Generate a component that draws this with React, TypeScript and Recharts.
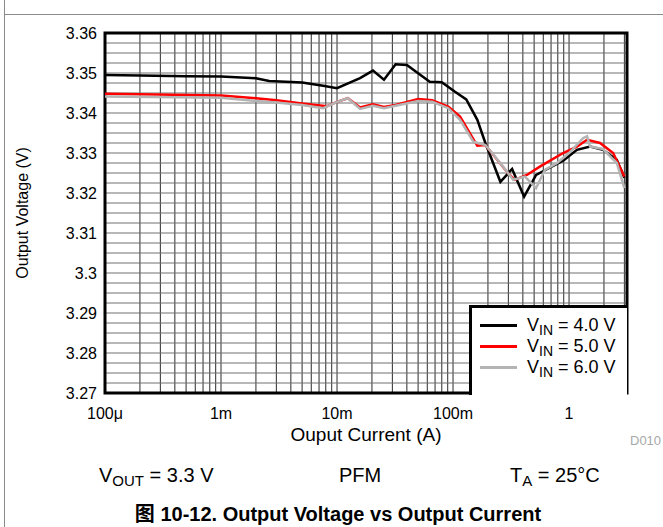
import {
  CartesianGrid,
  Label,
  Legend,
  Line,
  LineChart,
  ReferenceArea,
  XAxis,
  YAxis,
} from 'recharts';

// output current (A) and output voltage (V)
const vin4Current = [
  0.0001, 0.0002, 0.0005, 0.001, 0.002, 0.0026, 0.005, 0.0076, 0.01, 0.0158, 0.0204, 0.0254,
  0.032, 0.04, 0.063, 0.08, 0.104, 0.13, 0.162, 0.19, 0.256, 0.323, 0.41, 0.52, 0.65, 0.89,
  1.17, 1.52, 1.96, 2.58, 3.0,
];
const vin4Voltage = [
  3.3495, 3.3494, 3.3492, 3.3491, 3.3487, 3.348, 3.3476, 3.3468, 3.3462, 3.3487, 3.3506, 3.3483,
  3.3522, 3.352, 3.3478, 3.3477, 3.3453, 3.3434, 3.3383, 3.3325, 3.3228, 3.326, 3.3191, 3.3245,
  3.326, 3.3281, 3.3308, 3.3316, 3.3308, 3.3283, 3.3238,
];

const vin5Current = [
  0.0001, 0.001, 0.002, 0.003, 0.005, 0.0082, 0.01, 0.0124, 0.0158, 0.0204, 0.0254, 0.032, 0.05,
  0.066, 0.091, 0.115, 0.162, 0.19, 0.297, 0.34, 0.433, 0.56, 0.89, 1.17, 1.43, 1.85, 2.4, 3.0,
];
const vin5Voltage = [
  3.3448, 3.3444, 3.3437, 3.3432, 3.3424, 3.3417, 3.3428, 3.3437, 3.3414, 3.3422, 3.3415, 3.342,
  3.3435, 3.3432, 3.3416, 3.3391, 3.3318, 3.332, 3.325, 3.3233, 3.3245, 3.3266, 3.33, 3.3316,
  3.3333, 3.3325, 3.33, 3.3241,
];

const vin6Current = [
  0.0001, 0.001, 0.002, 0.003, 0.005, 0.0076, 0.01, 0.0124, 0.0158, 0.0204, 0.0254, 0.032, 0.05,
  0.066, 0.091, 0.115, 0.15, 0.19, 0.217, 0.27, 0.33, 0.417, 0.52, 0.62, 0.79, 1.0, 1.32, 1.43,
  1.52, 1.96, 2.58, 3.0,
];
const vin6Voltage = [
  3.3441, 3.3438, 3.343, 3.3426, 3.342, 3.3412, 3.3428, 3.3437, 3.341, 3.3418, 3.3412, 3.3418,
  3.343, 3.3428, 3.3412, 3.3383, 3.3328, 3.332, 3.33, 3.3266, 3.3233, 3.3241, 3.3212, 3.3258,
  3.3275, 3.33, 3.3337, 3.3342, 3.3316, 3.331, 3.3275, 3.3212,
];

const decadeTicks = [0.0001, 0.001, 0.01, 0.1, 1];
const decadeLabels = ['100μ', '1m', '10m', '100m', '1'];
const voltageTicks = [3.27, 3.28, 3.29, 3.3, 3.31, 3.32, 3.33, 3.34, 3.35, 3.36];
const voltageLabels = ['3.27', '3.28', '3.29', '3.3', '3.31', '3.32', '3.33', '3.34', '3.35', '3.36'];
const gridMultipliers = [1, 2, 3, 4, 5, 6, 7, 8, 9];

const X_MIN = 0.0001;
const X_MAX = 3.16;

const seriesNames = ['4.0', '5.0', '6.0'];
const seriesColors = ['#000000', '#ff0000', '#b4b4b4'];

const toPoints = (xs: number[], ys: number[]) => xs.map((i, k) => ({ i, v: ys[k] }));
const vin4Data = toPoints(vin4Current, vin4Voltage);
const vin5Data = toPoints(vin5Current, vin5Voltage);
const vin6Data = toPoints(vin6Current, vin6Voltage);

// log grid: 1..9 per decade
const xGridTicks = decadeTicks
  .flatMap((d) => gridMultipliers.map((m) => +(d * m).toPrecision(3)))
  .filter((v) => v <= X_MAX);
// 4 minor divisions per 0.01 V
const yGridTicks = Array.from({ length: 37 }, (_, k) => +(3.27 + k * 0.0025).toFixed(4));

const FONT = '"Liberation Sans", Arial, sans-serif';

const xFmt = (v: number) => {
  const idx = decadeTicks.findIndex((d) => Math.abs(d - v) < d * 1e-6);
  return idx >= 0 ? decadeLabels[idx] : '';
};
const yFmt = (v: number) => {
  const idx = voltageTicks.findIndex((d) => Math.abs(d - v) < 1e-6);
  return idx >= 0 ? voltageLabels[idx] : '';
};

function LegendBox() {
  return (
    <div
      style={{
        width: 155,
        height: 80,
        background: '#fff',
        border: '3px solid #000',
        borderRight: 'none',
        borderBottom: 'none',
        fontFamily: FONT,
        fontSize: 18,
        color: '#000',
        paddingTop: 7,
        boxSizing: 'content-box',
      }}
    >
      {seriesNames.map((n, k) => (
        <div key={n} style={{ display: 'flex', alignItems: 'center', height: 21 }}>
          <span
            style={{
              display: 'inline-block',
              width: 37,
              height: 2.5,
              background: seriesColors[k],
              marginLeft: 8,
              marginRight: 10,
            }}
          />
          <span style={{ lineHeight: '21px' }}>
            V<sub style={{ fontSize: 14, verticalAlign: -4, lineHeight: 0 }}>IN</sub> = {n} V
          </span>
        </div>
      ))}
    </div>
  );
}

const noteStyle: React.CSSProperties = {
  position: 'absolute',
  fontFamily: FONT,
  fontSize: 20,
  lineHeight: '20px',
  color: '#000',
  whiteSpace: 'nowrap',
};

export default function App() {
  return (
    <div style={{ position: 'absolute', left: 0, top: 0, width: 663, height: 527, background: '#fff', overflow: 'hidden' }}>
      <div style={{ position: 'absolute', left: 4, top: 0, width: 1, height: 527, background: '#8a8a8a' }} />
      <div style={{ position: 'absolute', left: 4, top: 14, width: 659, height: 1, background: '#8a8a8a' }} />
      <LineChart
        width={663}
        height={527}
        margin={{ top: 33, right: 36, bottom: 104, left: 0 }}
        style={{ position: 'absolute', left: 0, top: 0 }}
      >
        <CartesianGrid horizontal={false} stroke="#2a2a2a" strokeWidth={1} />
        <CartesianGrid vertical={false} stroke="#707070" strokeWidth={1} />
        <XAxis
          dataKey="i"
          type="number"
          scale="log"
          domain={[X_MIN, X_MAX]}
          allowDataOverflow
          ticks={xGridTicks}
          interval={0}
          tickFormatter={xFmt}
          axisLine={false}
          tickLine={false}
          tickMargin={9}
          height={30}
          tick={{ fontSize: 16, fill: '#000', fontFamily: FONT }}
        >
          <Label
            content={({ viewBox }: any) => (
              <text
                x={viewBox.x + viewBox.width / 2}
                y={441}
                textAnchor="middle"
                fontSize={19}
                fontFamily={FONT}
                fill="#000"
              >
                Ouput Current (A)
              </text>
            )}
          />
        </XAxis>
        <YAxis
          type="number"
          domain={[3.27, 3.36]}
          allowDataOverflow
          ticks={yGridTicks}
          interval={0}
          tickFormatter={yFmt}
          axisLine={false}
          tickLine={false}
          width={105}
          tick={{ fontSize: 16, fill: '#000', fontFamily: FONT }}
        >
          <Label
            content={({ viewBox }: any) => {
              const cy = viewBox.y + viewBox.height / 2;
              return (
                <text
                  x={28}
                  y={cy}
                  transform={`rotate(-90 28 ${cy})`}
                  textAnchor="middle"
                  fontSize={16}
                  fontFamily={FONT}
                  fill="#000"
                >
                  Output Voltage (V)
                </text>
              );
            }}
          />
        </YAxis>
        <Line data={vin4Data} dataKey="v" type="linear" stroke={seriesColors[0]} strokeWidth={2.5} dot={false} isAnimationActive={false} />
        <Line data={vin5Data} dataKey="v" type="linear" stroke={seriesColors[1]} strokeWidth={2.5} dot={false} isAnimationActive={false} />
        <Line data={vin6Data} dataKey="v" type="linear" stroke={seriesColors[2]} strokeWidth={2.5} dot={false} isAnimationActive={false} />
        <ReferenceArea
          x1={X_MIN}
          x2={X_MAX}
          y1={3.27}
          y2={3.36}
          fill="none"
          stroke="#000"
          strokeWidth={3}
          ifOverflow="visible"
        />
        <Legend
          layout="vertical"
          align="center"
          verticalAlign="middle"
          content={() => <LegendBox />}
          wrapperStyle={{ left: 469, top: 305, width: 'auto', height: 'auto' }}
        />
      </LineChart>
      <div style={{ ...noteStyle, left: 630, top: 434, fontSize: 13, lineHeight: '13px', color: '#a8a8a8' }}>D010</div>
      <div style={{ ...noteStyle, left: 99, top: 465 }}>
        V<sub style={{ fontSize: 15, verticalAlign: -4, lineHeight: 0 }}>OUT</sub> = 3.3 V
      </div>
      <div style={{ ...noteStyle, left: 339, top: 465 }}>PFM</div>
      <div style={{ ...noteStyle, left: 510, top: 465 }}>
        T<sub style={{ fontSize: 15, verticalAlign: -4, lineHeight: 0 }}>A</sub> = 25°C
      </div>
      <div
        style={{
          ...noteStyle,
          left: 0,
          width: 676,
          textAlign: 'center',
          top: 503,
          fontWeight: 'bold',
          fontSize: 20,
          lineHeight: '20px',
        }}
      >
        <span style={{ fontFamily: '"Noto Sans CJK SC", sans-serif', lineHeight: '20px' }}>图</span> 10-12. Output Voltage vs Output Current
      </div>
    </div>
  );
}
